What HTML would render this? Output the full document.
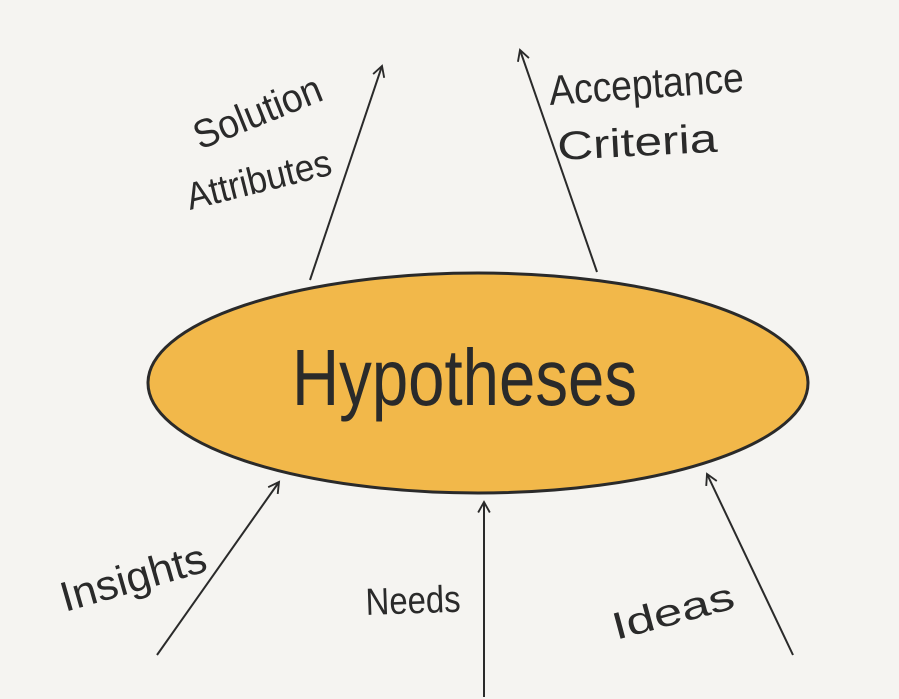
<!DOCTYPE html>
<html><head><meta charset="utf-8"><style>
html,body{margin:0;padding:0;background:#f5f4f1;}
svg{display:block}
text{font-family:"Liberation Sans",sans-serif;fill:#2a2a2a;}
</style></head><body>
<svg width="899" height="699" viewBox="0 0 899 699" xmlns="http://www.w3.org/2000/svg">
<defs>
<marker id="a" viewBox="0 0 12 12" refX="10" refY="6" markerWidth="14" markerHeight="14" orient="auto" markerUnits="userSpaceOnUse">
<path d="M1,1 L10,6 L1,11" fill="none" stroke="#2a2a2a" stroke-width="1.6"/>
</marker>
</defs>
<rect width="899" height="699" fill="#f5f4f1"/>
<ellipse cx="478" cy="383" rx="330" ry="110" fill="#f2b84a" stroke="#2a2a2a" stroke-width="3"/>
<g stroke="#2a2a2a" stroke-width="2" fill="none" marker-end="url(#a)">
<line x1="310" y1="280" x2="382" y2="66"/>
<line x1="597" y1="272" x2="520" y2="50"/>
<line x1="157" y1="655" x2="279" y2="482"/>
<line x1="484" y1="697" x2="484" y2="502"/>
<line x1="793" y1="655" x2="707" y2="474"/>
</g>
<text x="292" y="405" font-size="80" textLength="345" lengthAdjust="spacingAndGlyphs" font-weight="300">Hypotheses</text>
<text transform="translate(200,150) rotate(-22)" font-size="40" textLength="135" lengthAdjust="spacingAndGlyphs">Solution</text>
<text transform="translate(190,210) rotate(-14)" font-size="38" textLength="148" lengthAdjust="spacingAndGlyphs">Attributes</text>
<text transform="translate(550,105) rotate(-4)" font-size="42" textLength="195" lengthAdjust="spacingAndGlyphs">Acceptance</text>
<text transform="translate(558,160) rotate(-3)" font-size="40" textLength="160" lengthAdjust="spacingAndGlyphs">Criteria</text>
<text transform="translate(65,612) rotate(-16)" font-size="42" textLength="150" lengthAdjust="spacingAndGlyphs">Insights</text>
<text transform="translate(366,615) rotate(-2)" font-size="38" textLength="95" lengthAdjust="spacingAndGlyphs">Needs</text>
<text transform="translate(616,640) rotate(-15)" font-size="38" textLength="125" lengthAdjust="spacingAndGlyphs">Ideas</text>
</svg>
</body></html>
